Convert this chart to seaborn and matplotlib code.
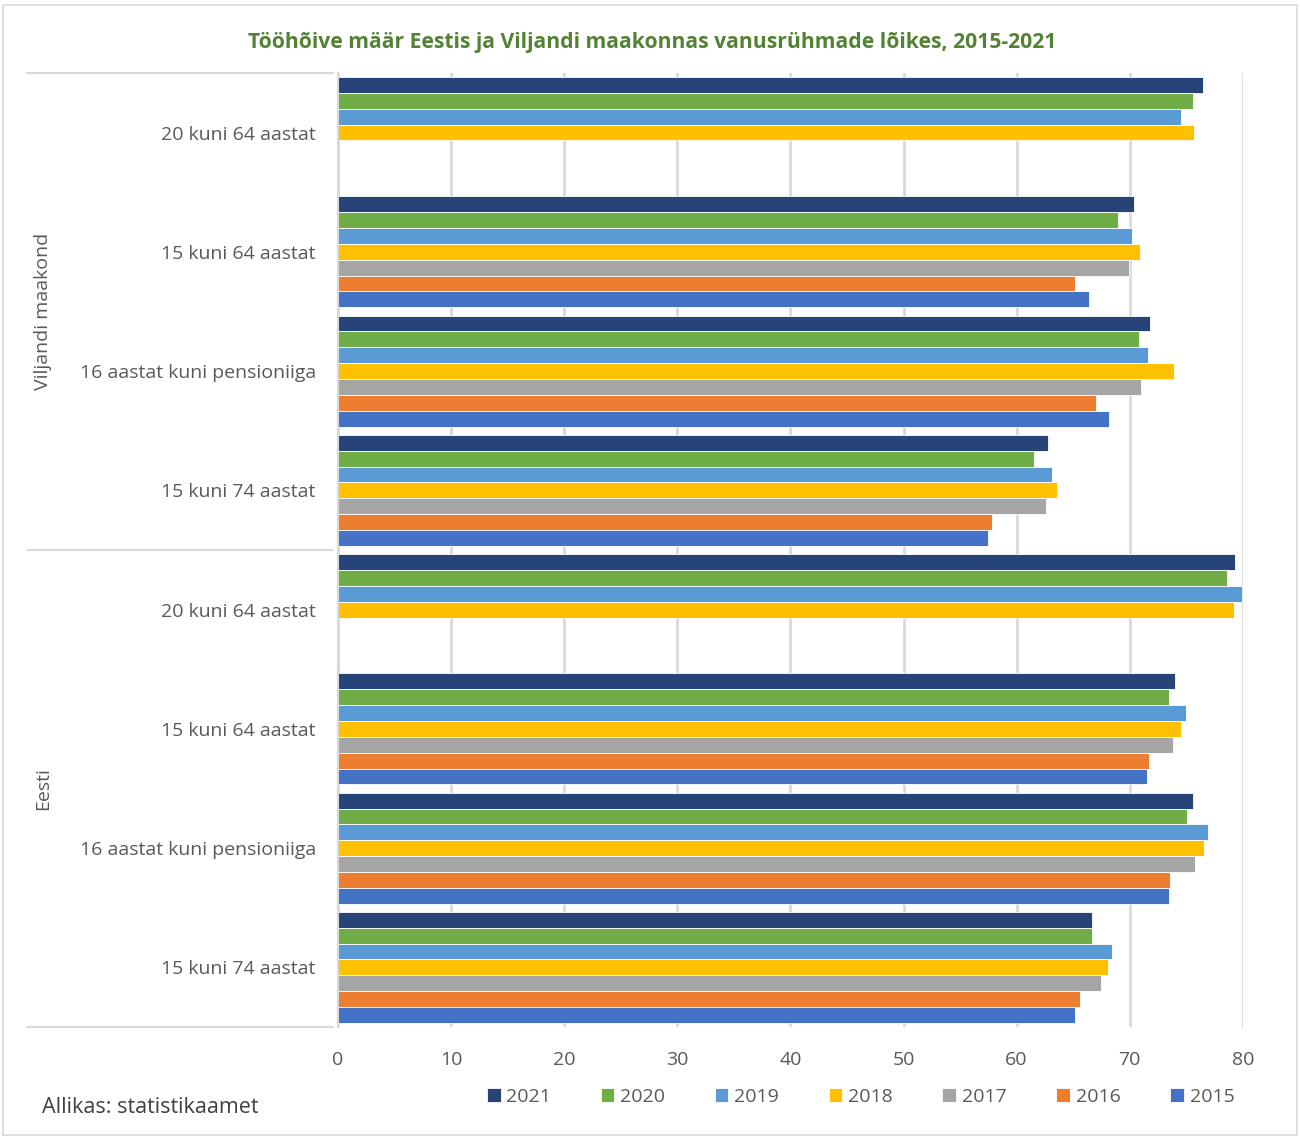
import pandas as pd
import matplotlib.pyplot as plt
import seaborn as sns
import numpy as np
from matplotlib.patches import Rectangle
import matplotlib.transforms as mtransforms

# Age groups per region (top to bottom)
regions = ['Viljandi maakond', 'Eesti']
age_groups = ['20 kuni 64 aastat', '15 kuni 64 aastat',
              '16 aastat kuni pensioniiga', '15 kuni 74 aastat']
years = ['2021', '2020', '2019', '2018', '2017', '2016', '2015']
year_colors = ['#264478', '#70AD47', '#5B9BD5', '#FFC000',
               '#A5A5A5', '#ED7D31', '#4472C4']

# Employment rate (%) per year, order follows regions x age_groups
rate_2021 = [76.5, 70.4, 71.8, 62.8, 79.3, 74.0, 75.6, 66.7]
rate_2020 = [75.6, 69.0, 70.8, 61.5, 78.6, 73.5, 75.1, 66.7]
rate_2019 = [74.5, 70.2, 71.6, 63.1, 79.9, 75.0, 76.9, 68.4]
rate_2018 = [75.7, 70.9, 73.9, 63.6, 79.2, 74.5, 76.6, 68.1]
rate_2017 = [np.nan, 69.9, 71.0, 62.6, np.nan, 73.8, 75.8, 67.5]
rate_2016 = [np.nan, 65.2, 67.0, 57.8, np.nan, 71.7, 73.6, 65.6]
rate_2015 = [np.nan, 66.4, 68.2, 57.5, np.nan, 71.5, 73.5, 65.2]

rates = [rate_2021, rate_2020, rate_2019, rate_2018, rate_2017, rate_2016, rate_2015]

# Long table for seaborn (unique category keys, duplicated labels later)
cat_keys = [f'{r}|{a}' for r in regions for a in age_groups]
rows = []
for yr, vals in zip(years, rates):
    for key, v in zip(cat_keys, vals):
        rows.append({'cat': key, 'year': yr, 'rate': v})
df = pd.DataFrame(rows).dropna()

sns.set_style('white')
plt.rcParams['font.family'] = ['Open Sans', 'DejaVu Sans']
grey_txt = '#595959'

fig = plt.figure(figsize=(13, 11.38), dpi=100)
ax = fig.add_axes([0.26, 0.0975, 0.696, 0.8384])

sns.barplot(data=df, y='cat', x='rate', hue='year', order=cat_keys,
            hue_order=years, palette=year_colors, width=0.93, orient='h',
            saturation=1, edgecolor='white', linewidth=0.6, ax=ax, legend=True)

ax.set_xlim(0, 80)
ax.set_ylim(7.5, -0.5)
ax.set_xticks(range(0, 81, 10))
ax.xaxis.grid(True, color='#D9D9D9', linewidth=2)
ax.set_axisbelow(True)
ax.set_xlabel('')
ax.set_ylabel('')
ax.set_yticks(range(len(cat_keys)))
ax.set_yticklabels([k.split('|')[1] for k in cat_keys])
ax.tick_params(axis='both', colors=grey_txt, labelsize=14, length=0)
ax.tick_params(axis='y', pad=16)
ax.tick_params(axis='x', pad=17)
for s in ['top', 'right', 'bottom']:
    ax.spines[s].set_visible(False)
ax.spines['left'].set_color('#D9D9D9')
ax.spines['left'].set_linewidth(1.5)

# group separators on the category axis
trans = mtransforms.blended_transform_factory(ax.transAxes, ax.transData)
for yv in [-0.5, 3.5, 7.5]:
    ax.plot([-0.344, -0.005], [yv, yv], transform=trans, color='#D9D9D9',
            linewidth=1.5, clip_on=False)
for i, reg in enumerate(regions):
    ax.text(-0.326, 1.5 + 4 * i, reg, transform=trans, rotation=90,
            ha='center', va='center', fontsize=14, color=grey_txt)

# legend
handles, labels = ax.get_legend_handles_labels()
ax.get_legend().remove()
fig.legend(handles, labels, loc='center', bbox_to_anchor=(0.662, 0.036),
           ncol=7, frameon=False, fontsize=14, labelcolor=grey_txt,
           handlelength=0.7, handleheight=0.7, handletextpad=0.3,
           columnspacing=2.55)

fig.text(0.502, 0.963, 'Tööhõive määr Eestis ja Viljandi maakonnas vanusrühmade lõikes, 2015-2021',
         ha='center', va='center', fontsize=15.2, fontweight='bold', color='#548235')
fig.text(0.032, 0.027, 'Allikas: statistikaamet', ha='left', va='center',
         fontsize=15.5, color='#404040')

fig.patches.append(Rectangle((0.002, 0.003), 0.996, 0.993, transform=fig.transFigure,
                             fill=False, edgecolor='#D9D9D9', linewidth=1.2))

fig.savefig('out.png', dpi=100)
